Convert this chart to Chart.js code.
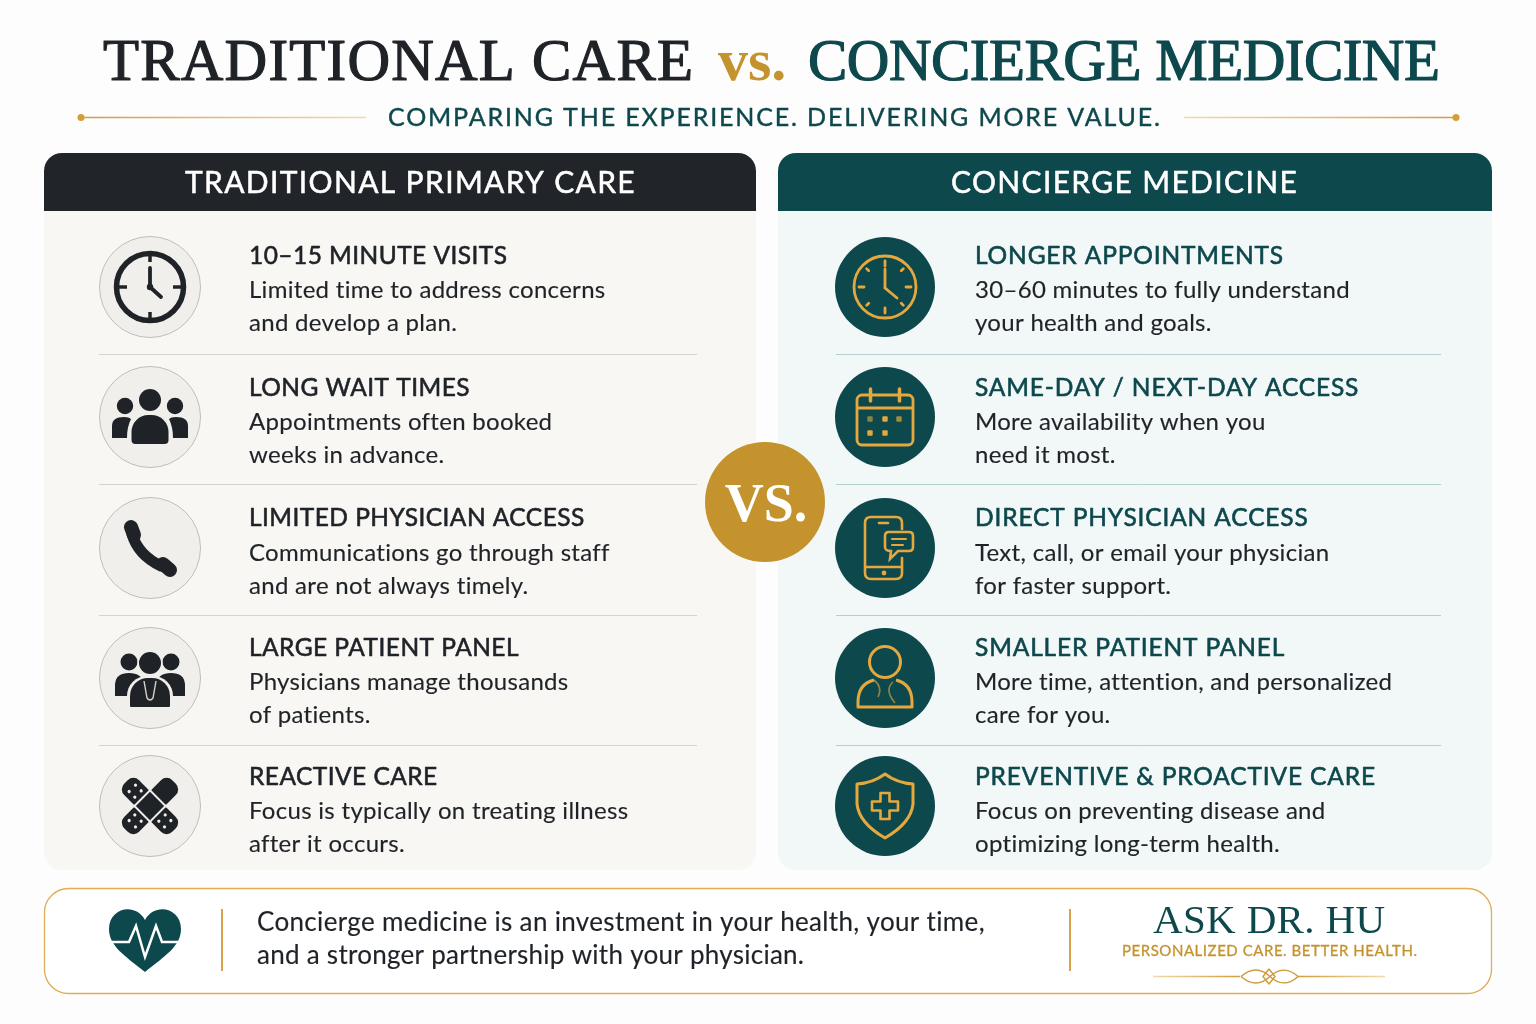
<!DOCTYPE html>
<html>
<head>
<meta charset="utf-8">
<title>Traditional Care vs. Concierge Medicine</title>
<script src="https://cdn.jsdelivr.net/npm/chart.js@4/dist/chart.umd.min.js"></script>
<style>
html, body { margin: 0; padding: 0; background: #fdfdfd; }
#wrap { position: relative; width: 1536px; height: 1024px; overflow: hidden; }
</style>
</head>
<body>
<div id="wrap"><canvas id="canvas" width="1536" height="1024"></canvas></div>
<script>
// chart content
var rows = [0, 1, 2, 3, 4];
var leftTitles = ['10–15 MINUTE VISITS', 'LONG WAIT TIMES', 'LIMITED PHYSICIAN ACCESS', 'LARGE PATIENT PANEL', 'REACTIVE CARE'];
var leftLine1 = ['Limited time to address concerns', 'Appointments often booked', 'Communications go through staff', 'Physicians manage thousands', 'Focus is typically on treating illness'];
var leftLine2 = ['and develop a plan.', 'weeks in advance.', 'and are not always timely.', 'of patients.', 'after it occurs.'];
var rightTitles = ['LONGER APPOINTMENTS', 'SAME-DAY / NEXT-DAY ACCESS', 'DIRECT PHYSICIAN ACCESS', 'SMALLER PATIENT PANEL', 'PREVENTIVE & PROACTIVE CARE'];
var rightLine1 = ['30–60 minutes to fully understand', 'More availability when you', 'Text, call, or email your physician', 'More time, attention, and personalized', 'Focus on preventing disease and'];
var rightLine2 = ['your health and goals.', 'need it most.', 'for faster support.', 'care for you.', 'optimizing long-term health.'];

// row drift of the picture against the even row scale
var rowNudge = [0, 0, 1, 1, -1];
var titleDrift = [-1, 1, 0, 0, 1];
var bodyDrift = [-2, 0, 0, -1, 0];

var DARK = '#1f2328', TEAL = '#0d484d', GOLD = '#e5a83f', DEEPGOLD = '#c4932e';
var SERIF = '"Liberation Serif"', SANS = 'Lato';

function line(c, x1, y1, x2, y2) {
    c.beginPath(); c.moveTo(x1, y1); c.lineTo(x2, y2); c.stroke();
}
function dot(c, x, y, r) {
    c.beginPath(); c.arc(x, y, r, 0, Math.PI * 2); c.fill();
}
function box(c, x, y, w, h, r) {
    c.beginPath(); c.roundRect(x, y, w, h, r);
}

function darkClock(c) {
    c.lineWidth = 5.5;
    c.beginPath(); c.arc(0, 0, 33.5, 0, Math.PI * 2); c.stroke();
    c.lineWidth = 3.5;
    line(c, 0, -33, 0, -25); line(c, 0, 33, 0, 25); line(c, -33, 0, -23, 0); line(c, 33, 0, 23, 0);
    c.lineWidth = 3.8; c.lineCap = 'round';
    line(c, 0, -19, 0, 0); line(c, 0, 0, 11, 10);
    dot(c, 0, 0, 3.2);
}
function darkPeople(c) {
    dot(c, 0, -17, 11); dot(c, -25, -11, 8.2); dot(c, 25, -11, 8.2);
    box(c, -18.5, -2, 37, 29, [17, 17, 4, 4]); c.fill();
    c.beginPath(); c.moveTo(-38, 21); c.lineTo(-38, 9); c.quadraticCurveTo(-38, 0, -26, 0);
    c.quadraticCurveTo(-21, 0, -19, 2); c.quadraticCurveTo(-23, 10, -23, 21); c.closePath(); c.fill();
    c.beginPath(); c.moveTo(38, 21); c.lineTo(38, 9); c.quadraticCurveTo(38, 0, 26, 0);
    c.quadraticCurveTo(21, 0, 19, 2); c.quadraticCurveTo(23, 10, 23, 21); c.closePath(); c.fill();
}
function darkPhone(c) {
    c.lineCap = 'round';
    c.lineWidth = 11;
    c.beginPath(); c.moveTo(-18, -14); c.quadraticCurveTo(-12, 7, 11, 18); c.stroke();
    c.lineWidth = 14;
    line(c, -19, -21, -16, -13);
    line(c, 13, 16, 20, 22);
}
function darkDoctors(c) {
    dot(c, -21, -16, 8.5); dot(c, 21, -16, 8.5);
    c.beginPath(); c.moveTo(-35, 18); c.lineTo(-35, 6); c.quadraticCurveTo(-34, -5, -21, -5);
    c.quadraticCurveTo(-8, -5, -6, 6); c.lineTo(-6, 18); c.closePath(); c.fill();
    c.beginPath(); c.moveTo(35, 18); c.lineTo(35, 6); c.quadraticCurveTo(34, -5, 21, -5);
    c.quadraticCurveTo(8, -5, 6, 6); c.lineTo(6, 18); c.closePath(); c.fill();
    c.fillStyle = '#f1efec';
    box(c, -23, -2, 46, 32, [20, 20, 0, 0]); c.fill();
    dot(c, 0, -15, 12.5);
    c.fillStyle = DARK;
    dot(c, 0, -15, 11);
    box(c, -20, 0, 40, 29, [18, 18, 1, 1]); c.fill();
    c.strokeStyle = '#d9d4c8'; c.lineWidth = 1.4;
    c.beginPath(); c.moveTo(-6, 3); c.lineTo(-3, 20); c.quadraticCurveTo(0, 24, 3, 20); c.lineTo(6, 3); c.stroke();
}
function darkBandage(c) {
    c.rotate(Math.PI / 4);
    box(c, -10.5, -34, 21, 22, [8, 8, 1, 1]); c.fill();
    box(c, -10.5, 12, 21, 22, [1, 1, 8, 8]); c.fill();
    box(c, -34, -10.5, 22, 21, [8, 1, 1, 8]); c.fill();
    box(c, 12, -10.5, 22, 21, [1, 8, 8, 1]); c.fill();
    c.fillRect(-10, -10, 20, 20);
    c.fillStyle = '#f1efec';
    [[-25, -4.5], [-25, 4.5], [-17, -4.5], [-17, 4.5], [25, -4.5], [25, 4.5], [17, -4.5], [17, 4.5],
     [-4.5, 25], [4.5, 25], [-4.5, 17], [4.5, 17]].forEach(function (p) { dot(c, p[0], p[1], 1.6); });
}

function goldClock(c) {
    c.lineWidth = 2.8;
    c.beginPath(); c.arc(0, 0, 31, 0, Math.PI * 2); c.stroke();
    c.lineCap = 'round';
    for (var i = 0; i < 12; i += 1.5) {
        var a = i * Math.PI / 6;
        line(c, Math.sin(a) * 26, -Math.cos(a) * 26, Math.sin(a) * (i % 3 ? 23 : 21), -Math.cos(a) * (i % 3 ? 23 : 21));
    }
    line(c, 0, -18, 0, 1); line(c, 0, 1, 12, 11);
}
function goldCalendar(c) {
    c.lineWidth = 2.8;
    box(c, -28, -22, 56, 50, 5); c.stroke();
    line(c, -28, -9, 28, -9);
    c.lineWidth = 3.5; c.lineCap = 'round';
    line(c, -14.5, -28, -14.5, -16); line(c, 14.5, -28, 14.5, -16);
    [[-15, 2, .6], [0, 2, 1], [14, 2, .7], [-15, 16, 1], [0, 16, 1]].forEach(function (p) {
        c.globalAlpha = p[2]; box(c, p[0] - 2.7, p[1] - 2.7, 5.4, 5.4, 1); c.fill();
    });
    c.globalAlpha = 1;
}
function goldMessage(c) {
    c.lineWidth = 2.6; c.lineCap = 'round';
    c.beginPath();
    c.moveTo(17, -19); c.lineTo(17, -25); c.quadraticCurveTo(17, -31, 11, -31); c.lineTo(-14, -31);
    c.quadraticCurveTo(-20, -31, -20, -25); c.lineTo(-20, 25); c.quadraticCurveTo(-20, 31, -14, 31);
    c.lineTo(11, 31); c.quadraticCurveTo(17, 31, 17, 25); c.lineTo(17, 10);
    c.stroke();
    line(c, -6, -25, 3, -25);
    line(c, -19, 19, 16, 19);
    dot(c, -1, 25, 2.4);
    c.beginPath();
    c.moveTo(4, -16); c.lineTo(24, -16); c.quadraticCurveTo(28, -16, 28, -12); c.lineTo(28, -1);
    c.quadraticCurveTo(28, 3, 24, 3); c.lineTo(13, 3); c.lineTo(5, 11); c.lineTo(6, 3);
    c.quadraticCurveTo(0, 3, 0, -1); c.lineTo(0, -12); c.quadraticCurveTo(0, -16, 4, -16); c.closePath();
    c.stroke();
    c.lineWidth = 2;
    line(c, 7, -9, 21, -9); line(c, 7, -3, 18, -3);
}
function goldPerson(c) {
    c.lineWidth = 3;
    c.beginPath(); c.arc(0, -16, 15.5, 0, Math.PI * 2); c.stroke();
    c.lineJoin = 'round';
    c.beginPath();
    c.moveTo(-11, 2); c.quadraticCurveTo(-27, 6, -27, 24); c.lineTo(-27, 29); c.lineTo(27, 29); c.lineTo(27, 24);
    c.quadraticCurveTo(27, 6, 11, 2);
    c.stroke();
    c.lineWidth = 1.6; c.globalAlpha = .6;
    c.beginPath(); c.moveTo(-11, 2); c.quadraticCurveTo(-2, 9, -7, 19); c.stroke();
    c.beginPath(); c.moveTo(8, 4); c.quadraticCurveTo(-1, 12, 10, 25); c.stroke();
    c.globalAlpha = 1;
}
function goldShield(c) {
    c.lineWidth = 3; c.lineJoin = 'round';
    c.beginPath();
    c.moveTo(0, -32); c.quadraticCurveTo(-12, -23, -28, -22); c.lineTo(-28, -2);
    c.quadraticCurveTo(-26, 17, 0, 32); c.quadraticCurveTo(26, 17, 28, -2); c.lineTo(28, -22);
    c.quadraticCurveTo(12, -23, 0, -32); c.closePath();
    c.stroke();
    c.lineWidth = 2.6;
    var a = 4.5, b = 13;
    c.beginPath();
    c.moveTo(-a, -b); c.lineTo(a, -b); c.lineTo(a, -a); c.lineTo(b, -a); c.lineTo(b, a); c.lineTo(a, a);
    c.lineTo(a, b); c.lineTo(-a, b); c.lineTo(-a, a); c.lineTo(-b, a); c.lineTo(-b, -a); c.lineTo(-a, -a);
    c.closePath(); c.stroke();
}

// an icon disc as a canvas the point elements can use for a pointStyle
function makeIcon(drawFn, fill, border, ink, nudge) {
    var size = 124;
    var el = document.createElement('canvas');
    el.width = size; el.height = size;
    var c = el.getContext('2d');
    c.translate(size / 2, size / 2 + nudge);
    c.fillStyle = fill;
    dot(c, 0, 0, 50);
    if (border) {
        c.strokeStyle = border; c.lineWidth = 1;
        c.beginPath(); c.arc(0, 0, 50.5, 0, Math.PI * 2); c.stroke();
    }
    c.fillStyle = ink; c.strokeStyle = ink;
    drawFn(c);
    return el;
}
var leftIcons = [darkClock, darkPeople, darkPhone, darkDoctors, darkBandage].map(function (fn, i) {
    return makeIcon(fn, '#f1efec', '#bcbcb8', DARK, rowNudge[i]);
});
var rightIcons = [goldClock, goldCalendar, goldMessage, goldPerson, goldShield].map(function (fn, i) {
    return makeIcon(fn, TEAL, null, GOLD, rowNudge[i]);
});

function text(c, str, x, y, font, color, spacing, align, weight) {
    c.font = font;
    c.fillStyle = color;
    c.letterSpacing = (spacing || 0) + 'px';
    c.textAlign = align || 'left';
    c.textBaseline = 'alphabetic';
    c.fillText(str, x, y);
    if (weight) {
        // no medium cut of these faces, so thicken the regular one a little
        c.strokeStyle = color; c.lineWidth = weight; c.lineJoin = 'round';
        c.strokeText(str, x, y);
    }
    c.letterSpacing = '0px';
}

// same as text() but spaced out to span the width seen in the picture
function fitted(c, str, x, y, font, color, width, weight) {
    c.font = font;
    c.letterSpacing = '0px';
    var spare = width - c.measureText(str).width;
    text(c, str, x, y, font, color, spare / (str.length - 1), 'left', weight);
}

function fadeLine(c, x1, x2, y, from, to) {
    var g = c.createLinearGradient(x1, 0, x2, 0);
    g.addColorStop(0, from); g.addColorStop(1, to);
    c.strokeStyle = g; c.lineWidth = 1.6;
    line(c, x1, y, x2, y);
}

function panel(c, x, w, head, body) {
    c.fillStyle = body;
    box(c, x, 153, w, 717, 18); c.fill();
    c.fillStyle = head;
    box(c, x, 153, w, 58, [18, 18, 0, 0]); c.fill();
}

var backdrop = {
    id: 'backdrop',
    beforeDatasetsDraw: function (chart) {
        var c = chart.ctx, y = chart.scales.y;
        c.save();
        c.fillStyle = '#fdfdfd';
        c.fillRect(0, 0, 1536, 1024);

        // heading
        fitted(c, 'TRADITIONAL CARE', 103, 80, '400 59px ' + SERIF, DARK, 590, 1.2);
        text(c, 'vs.', 718, 80, 'bold 60px ' + SERIF, DEEPGOLD, 0);
        fitted(c, 'CONCIERGE MEDICINE', 808, 80, '400 59px ' + SERIF, TEAL, 632, 1.2);
        fitted(c, 'COMPARING THE EXPERIENCE. DELIVERING MORE VALUE.', 388, 126, '400 25px ' + SANS, TEAL, 772, 0.4);
        fadeLine(c, 80, 366, 117.5, '#d49d3b', '#f0d9ae');
        fadeLine(c, 1184, 1456, 117.5, '#f0d9ae', '#d49d3b');
        c.fillStyle = '#d49d3b';
        dot(c, 81, 117.5, 3.5);
        dot(c, 1456, 117.5, 3.5);

        // the two panels
        panel(c, 44, 712, '#212429', '#f9f7f4');
        panel(c, 778, 714, TEAL, '#f2f7f8');
        text(c, 'TRADITIONAL PRIMARY CARE', 410.5, 193, '400 30px ' + SANS, '#ffffff', 1.35, 'center', 0.5);
        text(c, 'CONCIERGE MEDICINE', 1124.5, 193, '400 30px ' + SANS, '#ffffff', 1.35, 'center', 0.5);

        // dividers under the first four rows
        rows.slice(0, 4).forEach(function (r, i) {
            var py = y.getPixelForValue(r) + rowNudge[i] + 67.5;
            c.lineWidth = 1;
            c.strokeStyle = '#d5d3ce';
            line(c, 99, py, 697, py);
            c.strokeStyle = '#b5cfd2';
            line(c, 836, py, 1441, py);
        });
        c.restore();
    },
    afterDatasetsDraw: function (chart) {
        var c = chart.ctx, y = chart.scales.y, x = chart.scales.x;
        c.save();
        var leftX = x.getPixelForValue(0) + 99, rightX = x.getPixelForValue(1) + 90;
        rows.forEach(function (r, i) {
            var py = y.getPixelForValue(r) + rowNudge[i];
            var ty = py - 22 + titleDrift[i], by = py + 13 + bodyDrift[i];
            text(c, leftTitles[i], leftX, ty, '400 24.5px ' + SANS, DARK, 0.45, 'left', 0.6);
            text(c, leftLine1[i], leftX, by, '400 24px ' + SANS, DARK, 0.3, 'left', 0.15);
            text(c, leftLine2[i], leftX, by + 32.5, '400 24px ' + SANS, DARK, 0.3, 'left', 0.15);
            text(c, rightTitles[i], rightX, ty, '400 24.5px ' + SANS, TEAL, 0.85, 'left', 0.6);
            text(c, rightLine1[i], rightX, by, '400 24px ' + SANS, DARK, 0.3, 'left', 0.15);
            text(c, rightLine2[i], rightX, by + 32.5, '400 24px ' + SANS, DARK, 0.3, 'left', 0.15);
        });

        // vs. badge
        c.fillStyle = DEEPGOLD;
        dot(c, 765, 502, 60);
        text(c, 'VS.', 766, 521, 'bold 54px ' + SERIF, '#ffffff', 0, 'center');

        // footer
        c.fillStyle = '#ffffff';
        box(c, 44.5, 888.5, 1447, 105, 24); c.fill();
        c.strokeStyle = '#e1ac58'; c.lineWidth = 1.3; c.stroke();
        c.strokeStyle = '#d9a24a'; c.lineWidth = 2;
        line(c, 222, 909, 222, 971);
        line(c, 1070, 909, 1070, 971);

        // heart
        c.save();
        c.translate(145, 940);
        c.fillStyle = TEAL;
        c.beginPath();
        c.moveTo(0, 32);
        c.bezierCurveTo(-20, 16, -36, 6, -36, -11);
        c.bezierCurveTo(-36, -32, -10, -38, 0, -20);
        c.bezierCurveTo(10, -38, 36, -32, 36, -11);
        c.bezierCurveTo(36, 6, 20, 16, 0, 32);
        c.fill();
        c.strokeStyle = '#ffffff'; c.lineWidth = 2.5; c.lineJoin = 'miter';
        c.beginPath();
        c.moveTo(-36, 2); c.lineTo(-16, 2); c.lineTo(-9, -14); c.lineTo(0, 17); c.lineTo(11, -14); c.lineTo(17, 2); c.lineTo(36, 2);
        c.stroke();
        c.restore();

        fitted(c, 'Concierge medicine is an investment in your health, your time,', 257, 931, '400 26px ' + SANS, DARK, 728, 0.15);
        fitted(c, 'and a stronger partnership with your physician.', 257, 964, '400 26px ' + SANS, DARK, 547, 0.15);
        fitted(c, 'ASK DR. HU', 1153, 933, '400 41px ' + SERIF, TEAL, 232);
        fitted(c, 'PERSONALIZED CARE. BETTER HEALTH.', 1122, 956, '400 15px ' + SANS, DEEPGOLD, 295, 0.3);

        // ornament under the logo
        fadeLine(c, 1153, 1240, 976.5, '#f0d9ae', '#d49d3b');
        fadeLine(c, 1298, 1385, 976.5, '#d49d3b', '#f0d9ae');
        c.strokeStyle = '#cf9a3a'; c.lineWidth = 1.4;
        c.beginPath();
        c.moveTo(1241, 976.5); c.bezierCurveTo(1252, 967, 1262, 969, 1270, 976.5);
        c.bezierCurveTo(1278, 984, 1288, 986, 1298, 976.5);
        c.bezierCurveTo(1288, 967, 1278, 969, 1270, 976.5);
        c.bezierCurveTo(1262, 984, 1252, 986, 1241, 976.5);
        c.stroke();
        c.beginPath();
        c.moveTo(1269, 969); c.lineTo(1275, 976.5); c.lineTo(1269, 984); c.lineTo(1263, 976.5); c.closePath();
        c.stroke();
        c.restore();
    }
};

new Chart(document.getElementById('canvas').getContext('2d'), {
    type: 'scatter',
    data: {
        datasets: [{
            label: 'Traditional primary care',
            data: rows.map(function (r) { return { x: 0, y: r }; }),
            pointStyle: function (ctx) { return leftIcons[ctx.dataIndex]; },
            radius: 50,
            clip: false
        }, {
            label: 'Concierge medicine',
            data: rows.map(function (r) { return { x: 1, y: r }; }),
            pointStyle: function (ctx) { return rightIcons[ctx.dataIndex]; },
            radius: 50,
            clip: false
        }]
    },
    options: {
        responsive: false,
        animation: false,
        devicePixelRatio: 1,
        events: [],
        layout: { padding: { left: 150, right: 651, top: 287, bottom: 217 } },
        plugins: { legend: { display: false }, tooltip: { enabled: false } },
        scales: {
            x: { type: 'linear', display: false, min: 0, max: 1 },
            y: { type: 'linear', display: false, min: 0, max: 4, reverse: true }
        }
    },
    plugins: [backdrop]
});
</script>
</body>
</html>
